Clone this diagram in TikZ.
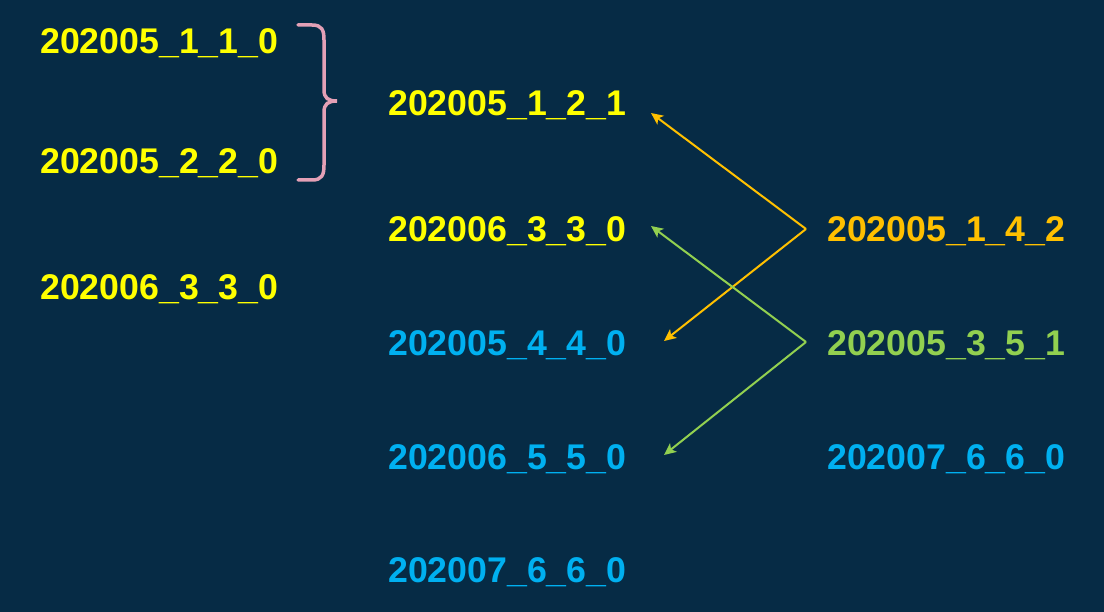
\documentclass[tikz,border=0pt]{standalone}
\usepackage{fontspec}
\setmainfont{Liberation Sans}
\usetikzlibrary{arrows.meta}
\definecolor{fondo}{HTML}{062B45}
\definecolor{amarillo}{HTML}{FFFF00}
\definecolor{azul}{HTML}{00B0F0}
\definecolor{naranja}{HTML}{FFC000}
\definecolor{verde}{HTML}{92D050}
\definecolor{rosa}{HTML}{E3A0B6}
\tikzset{
  etiq/.style={anchor=base west, inner sep=0pt,
    font=\fontsize{35.7}{40}\bfseries\selectfont},
  flecha/.style={line width=2pt, -{Stealth[length=12pt,width=11pt,inset=3pt]}}
}
\begin{document}
\begin{tikzpicture}[x=1pt, y=-1pt]
  % Fondo
  \fill[fondo] (0,0) rectangle (1104,612);
  \useasboundingbox (0,0) rectangle (1104,612);
  % Columna izquierda
  \node[etiq, amarillo] (iz1) at (40,54) {202005\_1\_1\_0};
  \node[etiq, amarillo] (iz2) at (40,174) {202005\_2\_2\_0};
  \node[etiq, amarillo] (iz3) at (40,300) {202006\_3\_3\_0};
  % Llave
  \draw[rosa, line width=3.5pt, line cap=round]
    (298,25) -- (312,25) .. controls (322,25) and (324,30) .. (324,40)
    -- (324,90) .. controls (324,98) and (328,101) .. (337,101)
    .. controls (328,101) and (324,104) .. (324,112)
    -- (324,165) .. controls (324,175) and (322,180) .. (312,180) -- (298,180);
  % Columna central
  \node[etiq, amarillo] (ce1) at (388,116) {202005\_1\_2\_1};
  \node[etiq, amarillo] (ce2) at (388,242) {202006\_3\_3\_0};
  \node[etiq, azul] (ce3) at (388,356) {202005\_4\_4\_0};
  \node[etiq, azul] (ce4) at (388,470) {202006\_5\_5\_0};
  \node[etiq, azul] (ce5) at (388,582) {202007\_6\_6\_0};
  % Columna derecha
  \node[etiq, naranja] (de1) at (827,242) {202005\_1\_4\_2};
  \node[etiq, verde] (de2) at (827,356) {202005\_3\_5\_1};
  \node[etiq, azul] (de3) at (827,470) {202007\_6\_6\_0};
  % Puntos de las flechas
  \coordinate (ra) at ([shift={(-21,-13)}]de1.base west);
  \coordinate (rb) at ([shift={(-21,-14)}]de2.base west);
  \coordinate (pa1) at ([shift={(263,-3)}]ce1.base west);
  \coordinate (pa2) at ([shift={(276,-15)}]ce3.base west);
  \coordinate (pb1) at ([shift={(263,-16)}]ce2.base west);
  \coordinate (pb2) at ([shift={(276,-15)}]ce4.base west);
  % Flechas
  \draw[flecha, naranja] (ra) -- (pa1);
  \draw[flecha, naranja] (ra) -- (pa2);
  \draw[flecha, verde] (rb) -- (pb1);
  \draw[flecha, verde] (rb) -- (pb2);
\end{tikzpicture}
\end{document}
